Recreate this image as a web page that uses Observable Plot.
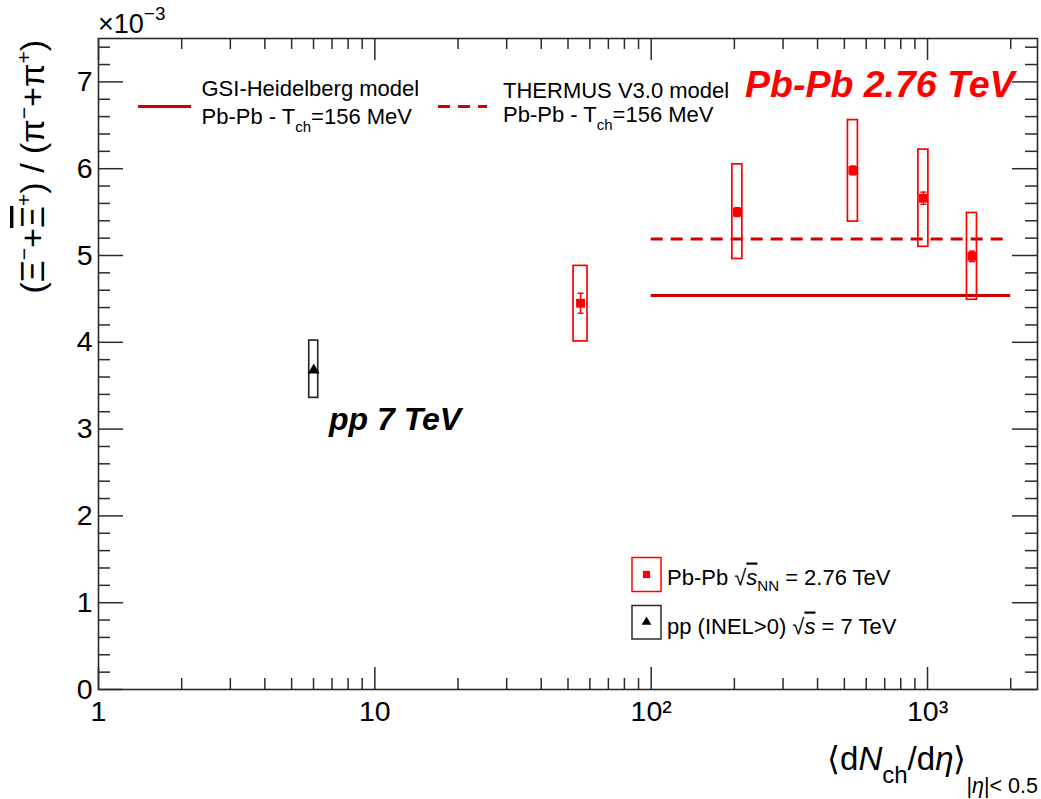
<!DOCTYPE html>
<html>
<head>
<meta charset="utf-8">
<script src="https://cdn.jsdelivr.net/npm/d3@7"></script>
<script src="https://cdn.jsdelivr.net/npm/@observablehq/plot@0.6"></script>
<style>
  html, body { margin: 0; padding: 0; background: #fff; }
  svg { font-family: "Liberation Sans", Arial, Helvetica, sans-serif; }
</style>
</head>
<body>
<div id="chart"></div>
<script>
// ---------------- data ----------------
const pbDNdEta = [55.5, 205, 537, 966, 1448];
const pbRatio  = [4.45, 5.50, 5.98, 5.66, 4.99];
const pbStat   = [0.115, 0.05, 0.05, 0.07, 0.06];
const pbSysLo  = [4.01, 4.96, 5.39, 5.10, 4.49];
const pbSysHi  = [4.88, 6.05, 6.56, 6.22, 5.49];

const ppDNdEta = [6.01];
const ppRatio  = [3.68];
const ppStat   = [0.03];
const ppSysLo  = [3.36];
const ppSysHi  = [4.02];

const modelNames = ["GSI-Heidelberg model", "THERMUS V3.0 model"];
const modelRatio = [4.54, 5.19];
const modelDNdEtaRange = [100, 2000];

const xMajorTicks = [1, 10, 100, 1000];
const xTickLabels = ["1", "10", "10²", "10³"];
const xMinorTicks = [2, 3, 4, 5, 6, 7, 8, 9, 20, 30, 40, 50, 60, 70, 80, 90,
                     200, 300, 400, 500, 600, 700, 800, 900, 2000];
const yMajorTicks = [0, 1, 2, 3, 4, 5, 6, 7];
const yTickLabels = ["0", "1", "2", "3", "4", "5", "6", "7"];
const yMinorTicks = [0.2, 0.4, 0.6, 0.8, 1.2, 1.4, 1.6, 1.8, 2.2, 2.4, 2.6, 2.8,
                     3.2, 3.4, 3.6, 3.8, 4.2, 4.4, 4.6, 4.8, 5.2, 5.4, 5.6, 5.8,
                     6.2, 6.4, 6.6, 6.8, 7.2, 7.4];

// ---------------- layout ----------------
const W = 1041, H = 799, mL = 98, mR = 4, mT = 38, mB = 110;
const innerW = W - mL - mR, innerH = H - mT - mB;
const RED = "#ff0000", MODELRED = "#cc0000", AX = "#2b2b2b";

const pb = pbDNdEta.map((x, i) => ({x, y: pbRatio[i], stat: pbStat[i], lo: pbSysLo[i], hi: pbSysHi[i]}));
const pp = ppDNdEta.map((x, i) => ({x, y: ppRatio[i], stat: ppStat[i], lo: ppSysLo[i], hi: ppSysHi[i]}));
const models = modelNames.map((name, i) => ({name, y: modelRatio[i], x1: modelDNdEtaRange[0], x2: modelDNdEtaRange[1], dashed: i === 1}));

const capSymbol = {draw(ctx, size) { const r = Math.sqrt(size) / 2; ctx.moveTo(-r, 0); ctx.lineTo(r, 0); }};
const tick = {stroke: AX, strokeWidth: 1.5};

const plot = Plot.plot({
  width: W, height: H,
  marginLeft: mL, marginRight: mR, marginTop: mT, marginBottom: mB,
  x: {type: "log", domain: [1, 2500], axis: null},
  y: {domain: [0, 7.5], axis: null},
  style: {background: "white", fontFamily: "Liberation Sans, Arial, sans-serif", overflow: "visible"},
  marks: [
    // ticks (inside the frame, on all four sides)
    Plot.tickX(xMajorTicks, {x: d => d, insetTop: innerH - 22, ...tick}),
    Plot.tickX(xMajorTicks, {x: d => d, insetBottom: innerH - 22, ...tick}),
    Plot.tickX(xMinorTicks, {x: d => d, insetTop: innerH - 11, ...tick}),
    Plot.tickX(xMinorTicks, {x: d => d, insetBottom: innerH - 11, ...tick}),
    Plot.tickY(yMajorTicks, {y: d => d, insetRight: innerW - 25, ...tick}),
    Plot.tickY(yMajorTicks, {y: d => d, insetLeft: innerW - 25, ...tick}),
    Plot.tickY(yMinorTicks, {y: d => d, insetRight: innerW - 12, ...tick}),
    Plot.tickY(yMinorTicks, {y: d => d, insetLeft: innerW - 12, ...tick}),
    // tick labels
    Plot.text(xMajorTicks, {x: d => d, text: (d, i) => xTickLabels[i], frameAnchor: "bottom", dy: 31, fontSize: 28.5, fill: "#000"}),
    Plot.text(yMajorTicks, {y: d => d, text: (d, i) => yTickLabels[i], frameAnchor: "left", textAnchor: "end", dx: -6, fontSize: 28.5, fill: "#000"}),
    // model lines
    Plot.ruleY(models.filter(d => !d.dashed), {y: "y", x1: "x1", x2: "x2", stroke: MODELRED, strokeWidth: 3}),
    Plot.ruleY(models.filter(d => d.dashed), {y: "y", x1: "x1", x2: "x2", stroke: MODELRED, strokeWidth: 3, strokeDasharray: "12,8"}),
    // systematic boxes
    Plot.rect(pb.slice(0, 1), {x1: "x", x2: "x", y1: "lo", y2: "hi", insetLeft: -7, insetRight: -7, fill: "none", stroke: RED, strokeWidth: 1.7}),
    Plot.rect(pb.slice(1), {x1: "x", x2: "x", y1: "lo", y2: "hi", insetLeft: -5, insetRight: -5, fill: "none", stroke: RED, strokeWidth: 1.7}),
    Plot.rect(pp, {x1: "x", x2: "x", y1: "lo", y2: "hi", insetLeft: -4.5, insetRight: -4.5, fill: "none", stroke: AX, strokeWidth: 1.7}),
    // statistical errors
    Plot.ruleX(pb, {x: "x", y1: d => d.y - d.stat, y2: d => d.y + d.stat, stroke: RED, strokeWidth: 1.5}),
    Plot.dot(pb, {x: "x", y: d => d.y - d.stat, symbol: capSymbol, r: 3.4, stroke: RED, strokeWidth: 1.5, fill: "none"}),
    Plot.dot(pb, {x: "x", y: d => d.y + d.stat, symbol: capSymbol, r: 3.4, stroke: RED, strokeWidth: 1.5, fill: "none"}),
    Plot.ruleX(pp, {x: "x", y1: d => d.y - d.stat, y2: d => d.y + d.stat, stroke: "#000", strokeWidth: 1.5}),
    // markers
    Plot.dot(pb, {x: "x", y: "y", symbol: "square", r: 5, fill: RED, stroke: "none"}),
    Plot.dot(pp, {x: "x", y: "y", symbol: "triangle", r: 4.3, fill: "#000", stroke: "none"}),
    // frame
    Plot.frame({stroke: AX, strokeWidth: 1.6})
  ]
});

document.getElementById("chart").appendChild(plot);

// ---------------- rich text, annotations and legends ----------------
const svg = d3.select(plot);
const g = svg.append("g").attr("fill", "#000").attr("text-anchor", "start")
  .attr("font-family", "Liberation Sans, Arial, sans-serif");

function rich(x, y, parts, attrs = {}) {
  const t = g.append("text").attr("x", x).attr("y", y).attr("text-anchor", "start");
  for (const [k, v] of Object.entries(attrs)) t.attr(k, v);
  for (const p of parts) {
    const s = t.append("tspan").text(p.t);
    if (p.dy) s.attr("dy", p.dy);
    if (p.fs) s.attr("font-size", p.fs);
    if (p.it) s.attr("font-style", "italic");
    if (p.ol) s.style("text-decoration", "overline");
  }
  return t;
}

// x10^-3 exponent
rich(98, 33, [{t: "×10", fs: 27}, {t: "−3", fs: 19, dy: -13}]);

// y axis title (rotated)
const F = 34, S = 21, U = 13;
rich(0, 0, [
  {t: "(", fs: F}, {t: "Ξ", fs: F}, {t: "−", fs: S, dy: -U}, {t: "+", fs: F, dy: U},
  {t: "Ξ", fs: F, ol: true}, {t: "+", fs: S, dy: -U}, {t: ") / (", fs: F, dy: U},
  {t: "π", fs: F}, {t: "−", fs: S, dy: -U}, {t: "+", fs: F, dy: U},
  {t: "π", fs: F}, {t: "+", fs: S, dy: -U}, {t: ")", fs: F, dy: U}
], {"text-anchor": "end", transform: "translate(44,40) rotate(-90)"});

// x axis title
rich(1038, 770, [
  {t: "⟨d", fs: 33}, {t: "N", fs: 33, it: true}, {t: "ch", fs: 24, dy: 13},
  {t: "/d", fs: 33, dy: -13}, {t: "η", fs: 33, it: true}, {t: "⟩", fs: 33},
  {t: "|", fs: 21.5, dy: 23}, {t: "η", fs: 21.5, it: true}, {t: "|< 0.5", fs: 21.5}
], {"text-anchor": "end"});

// model legend
g.append("line").attr("x1", 138).attr("x2", 191).attr("y1", 106.5).attr("y2", 106.5)
  .attr("stroke", MODELRED).attr("stroke-width", 3);
rich(201.5, 96, [{t: modelNames[0], fs: 22}]);
rich(201.5, 124, [{t: "Pb-Pb - T", fs: 22}, {t: "ch", fs: 15, dy: 8}, {t: "=156 MeV", fs: 22, dy: -8}]);

g.append("line").attr("x1", 438).attr("x2", 487).attr("y1", 106.5).attr("y2", 106.5)
  .attr("stroke", MODELRED).attr("stroke-width", 3).attr("stroke-dasharray", "12,8");
rich(503, 98, [{t: modelNames[1], fs: 22}]);
rich(503, 122, [{t: "Pb-Pb - T", fs: 22}, {t: "ch", fs: 15, dy: 8}, {t: "=156 MeV", fs: 22, dy: -8}]);

// annotations
rich(745, 96.5, [{t: "Pb-Pb 2.76 TeV", fs: 37.5}], {"font-weight": "bold", "font-style": "italic", fill: RED});
rich(329, 429.5, [{t: "pp 7 TeV", fs: 32}], {"font-weight": "bold", "font-style": "italic"});

// data legend
g.append("rect").attr("x", 632).attr("y", 557.5).attr("width", 29).attr("height", 34)
  .attr("fill", "none").attr("stroke", RED).attr("stroke-width", 1.5);
g.append("path").attr("transform", "translate(646.5,574.5)")
  .attr("d", d3.symbol(d3.symbolSquare, 52)()).attr("fill", RED);
rich(667, 584.5, [
  {t: "Pb-Pb ", fs: 22}, {t: "√", fs: 22}, {t: "s", fs: 22, it: true, ol: true},
  {t: "NN", fs: 15, dy: 6}, {t: " = 2.76 TeV", fs: 22, dy: -6}
]);

g.append("rect").attr("x", 632).attr("y", 605.5).attr("width", 29).attr("height", 33.5)
  .attr("fill", "none").attr("stroke", AX).attr("stroke-width", 1.5);
g.append("path").attr("transform", "translate(646.5,622)")
  .attr("d", d3.symbol(d3.symbolTriangle, 40)()).attr("fill", "#000");
rich(667, 633.5, [
  {t: "pp (INEL>0) ", fs: 22}, {t: "√", fs: 22}, {t: "s", fs: 22, it: true, ol: true},
  {t: " = 7 TeV", fs: 22}
]);
</script>
</body>
</html>
